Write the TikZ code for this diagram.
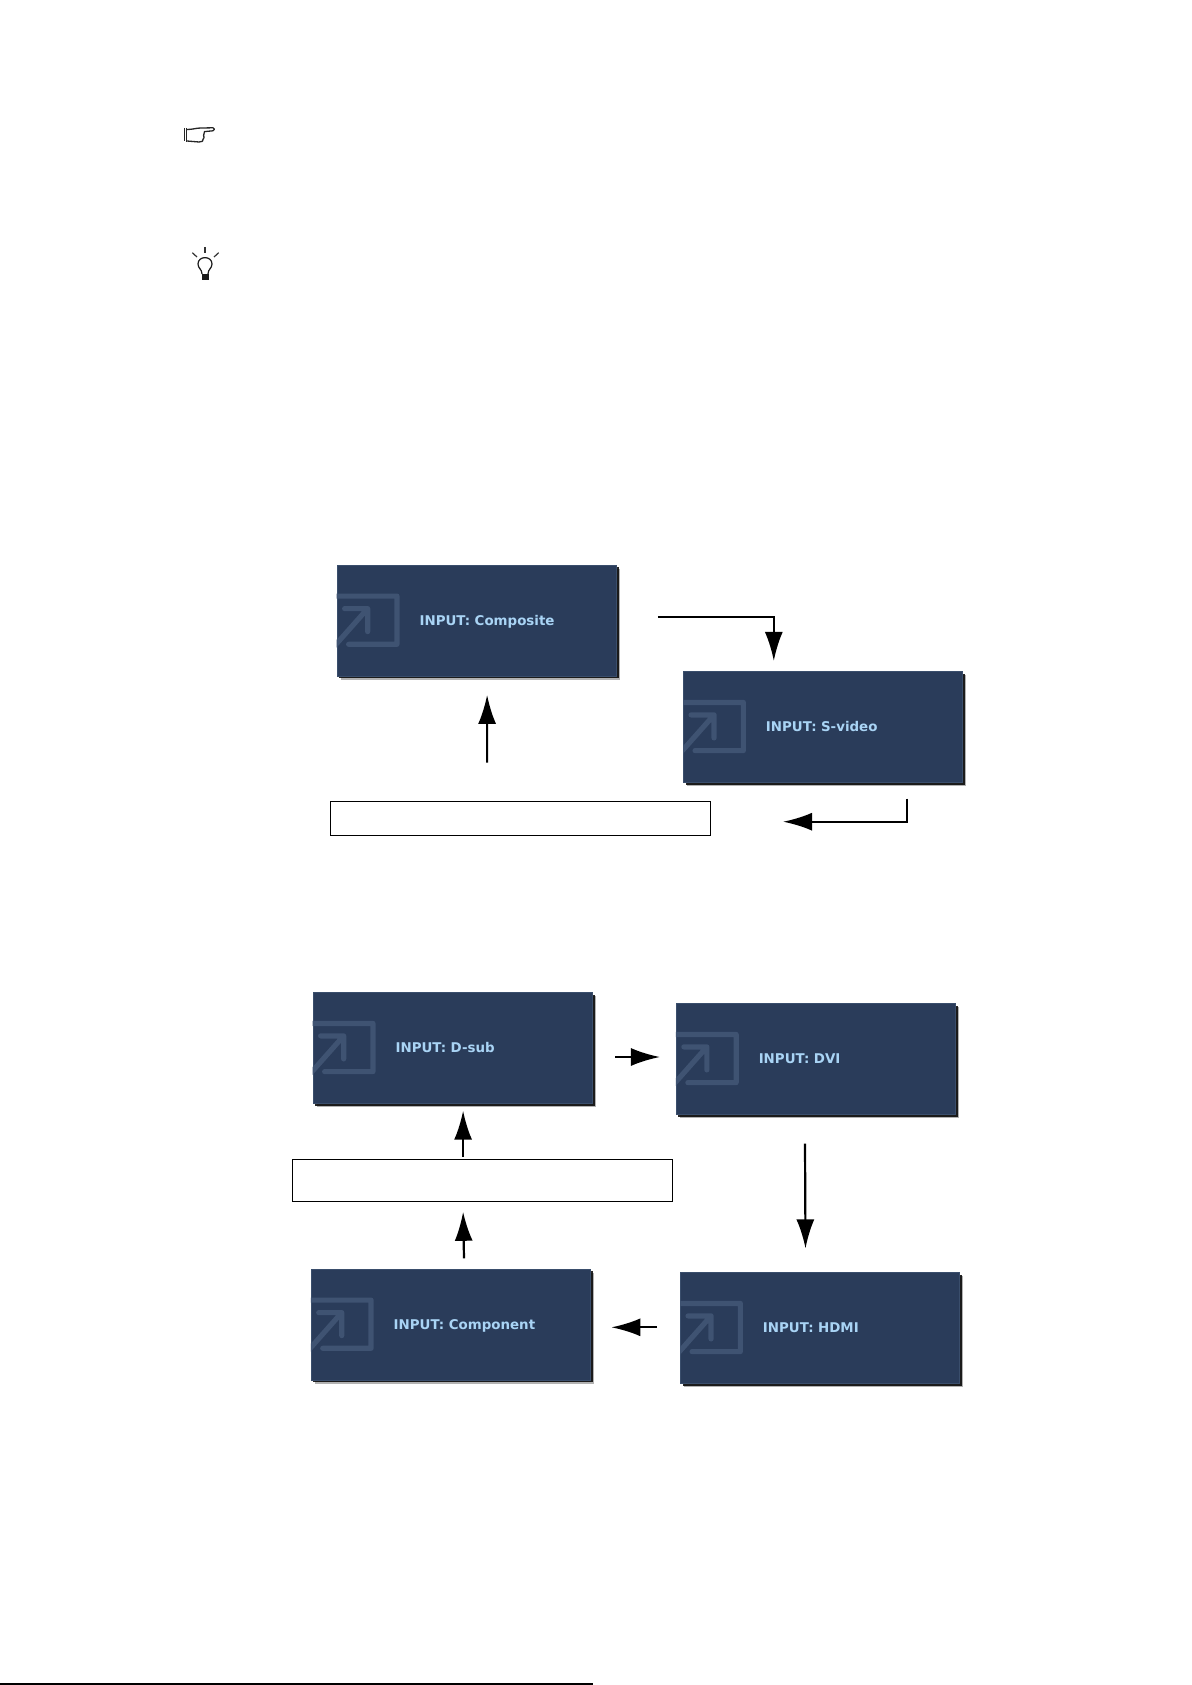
\documentclass[tikz,border=0pt]{standalone}
\usepackage{fontspec}
\usepackage{xcolor}
\usepackage{tikz}
\usetikzlibrary{arrows.meta}
\usetikzlibrary{shadows}
\newfontfamily\osdfont{DejaVu Sans}
\definecolor{osdblue}{HTML}{2A3C5A}
\definecolor{osdedge}{HTML}{3A4E6C}
\definecolor{osdicon}{HTML}{3F5372}
\definecolor{osdtext}{HTML}{A9D4F5}
\begin{document}
\begin{tikzpicture}[x=1pt,y=-1pt]
    \useasboundingbox (0,0) rectangle (1191,1685);

    \tikzstyle{flow}=[draw=black,line width=2.2pt,-{Latex[length=29pt,width=18pt]}]
    \tikzstyle{blank}=[draw=black,line width=1pt,fill=white]
    \tikzstyle{screen}=[draw=osdedge,line width=0.8pt,fill=osdblue,text=osdtext,inner sep=0pt,
      minimum width=279.3pt,minimum height=111pt,text width=279.3pt,align=left,
      text height=9.5pt,text depth=0pt,font=\osdfont\bfseries\fontsize{13.4pt}{14pt}\selectfont,
      execute at begin node={\hspace*{82.5pt}},
      drop shadow={shadow xshift=3.5pt,shadow yshift=-3.5pt,fill=black,opacity=0.3},
      drop shadow={shadow xshift=2.2pt,shadow yshift=-2.2pt,fill=black,opacity=0.85}]

    \node[screen] (composite) at (476.7,620.5)  {INPUT: Composite} ;
    \node[screen] (svideo)    at (823.1,726.8)  {INPUT: S-video} ;
    \node[screen] (dsub)      at (452.7,1047.8) {INPUT: D-sub} ;
    \node[screen] (dvi)       at (815.9,1058.8) {INPUT: DVI} ;
    \node[screen] (component) at (450.8,1324.5) {INPUT: Component} ;
    \node[screen] (hdmi)      at (820.1,1327.8) {INPUT: HDMI} ;

    \foreach \screenname in {composite,svideo,dsub,dvi,component,hdmi}{%
      \begin{scope}[shift={(\screenname.north west)}]
        \clip (0,0) rectangle (279.3,111) ;
        \draw[osdicon,line width=5.2pt,line join=round,line cap=round]
          (-8,31.5) -- (60.3,31.5) -- (60.3,79.7) -- (12,79.7)
          (8,44) -- (31,44) -- (31,67)
          (31,44) -- (-8,88) ;
      \end{scope}}

    \node[blank,minimum width=380pt,minimum height=34pt] (blankone) at (520.5,818.3) {} ;
    \node[blank,minimum width=380.5pt,minimum height=42pt] (blanktwo) at (482.7,1180.3) {} ;

    \draw[flow] ([shift={(41.2,-3.8)}]composite.east) -| ([shift={(-49.3,-10)}]svideo.north) ;
    \draw[flow] ([shift={(84,16)}]svideo.south) |- ([shift={(72,3.4)}]blankone.east) ;
    \draw[flow] ([shift={(-33.4,-38.3)}]blankone.north) -- ([shift={(10.4,18.5)}]composite.south) ;

    \draw[flow] ([shift={(22.3,9.2)}]dsub.east) -- ([shift={(-15.9,-1.8)}]dvi.west) ;
    \draw[flow] ([shift={(-10.9,29)}]dvi.south) -- ([shift={(-14.6,-23.5)}]hdmi.north) ;
    \draw[flow] ([shift={(-23,-0.5)}]hdmi.west) -- ([shift={(20.5,2.8)}]component.east) ;
    \draw[flow] ([shift={(13.2,-10.3)}]component.north) -- ([shift={(-19.6,10)}]blanktwo.south) ;
    \draw[flow] ([shift={(-19.6,-1.6)}]blanktwo.north) -- ([shift={(10.4,7)}]dsub.south) ;

    % hand
    \draw[black!85,line width=1.2pt,line join=round] (184.5,128.5) -- (184.5,141.5) (186.5,128) -- (186.5,142) ;
    \draw[black!85,line width=1.3pt,line join=round]
      (187,129.5) .. controls (193,129.5) and (196,128) .. (201,128) -- (213,127.8)
      .. controls (215,128.2) and (215,130.4) .. (213,130.8) -- (204.5,131.6)
      .. controls (203,133) and (205,134.5) .. (203.6,135.6)
      .. controls (204.8,137) and (203.8,138) .. (203.2,139)
      .. controls (203.6,141) and (202,142.2) .. (199,142) -- (187,141) ;

    % bulb
    \foreach \x/\y/\u/\v in {205/247/205/253,192.3/252.7/197/257,218.7/252.7/214/257}{%
      \draw[black!80,line width=1.2pt] (\x,\y) -- (\u,\v) ;}
    \draw[black!90,line width=1.2pt,line join=round]
      (202,274) .. controls (202,269) and (198,268.5) .. (198,264)
      .. controls (198,255.5) and (212,255.5) .. (212,264)
      .. controls (212,268.5) and (208,269) .. (208,274) ;
    \fill[black!90] (201.7,274) rectangle (209,280) ;

    \coordinate (footl) at (0,1684) ;
    \coordinate (footr) at (593,1684) ;
    \draw[black,line width=1.5pt] (footl) -- (footr) ;
\end{tikzpicture}
\end{document}
